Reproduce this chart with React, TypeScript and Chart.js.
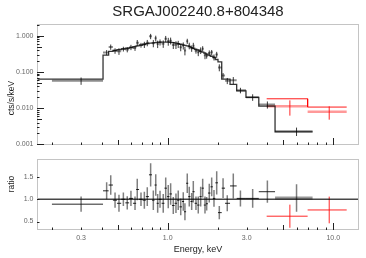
import React, { useEffect, useRef } from 'react';
import { Chart, registerables } from 'chart.js';

Chart.register(...registerables);

const FONT = '"Liberation Sans", Arial, sans-serif';
const TITLE = 'SRGAJ002240.8+804348';
const X_LABEL = 'Energy, keV';
const Y_LABEL_TOP = 'cts/s/keV';
const Y_LABEL_RATIO = 'ratio';

const X_MIN = 0.1625;
const X_MAX = 14.3;
const Y_MIN = 0.00096;
const Y_MAX = 2.1;
const R_MIN = 0.31;
const R_MAX = 1.905;
const X_TICKS = [0.3, 1, 3, 10];
const Y_TICKS = [0.001, 0.01, 0.1, 1];
const R_TICKS = [0.5, 1.0, 1.5];

// black spectrum: bin edges (keV), first model bin starts lower
const BLACK_MODEL_START = 0.162;
const BLACK_EDGES = [0.2, 0.407, 0.44, 0.467, 0.494, 0.524, 0.555, 0.585, 0.617, 0.645, 0.672, 0.706, 0.738, 0.771, 0.804, 0.833, 0.858, 0.884, 0.919, 0.956, 0.99, 1.025, 1.061, 1.101, 1.14, 1.178, 1.22, 1.256, 1.292, 1.331, 1.373, 1.412, 1.455, 1.506, 1.556, 1.604, 1.653, 1.7, 1.751, 1.813, 1.874, 1.94, 2.013, 2.12, 2.22, 2.38, 2.61, 2.97, 3.55, 4.45, 7.5];
const BLACK_CENTERS = [0.30, 0.428, 0.453, 0.481, 0.508, 0.540, 0.570, 0.600, 0.635, 0.655, 0.690, 0.723, 0.753, 0.789, 0.819, 0.847, 0.870, 0.899, 0.940, 0.973, 1.008, 1.042, 1.081, 1.122, 1.158, 1.199, 1.242, 1.271, 1.313, 1.350, 1.396, 1.428, 1.482, 1.530, 1.582, 1.627, 1.680, 1.720, 1.783, 1.844, 1.904, 1.977, 2.050, 2.16, 2.29, 2.49, 2.75, 3.26, 4.0, 6.0];
const BLACK_MODEL = [0.063, 0.29, 0.37, 0.39, 0.41, 0.43, 0.45, 0.47, 0.50, 0.52, 0.55, 0.58, 0.60, 0.62, 0.63, 0.64, 0.65, 0.66, 0.66, 0.66, 0.66, 0.65, 0.64, 0.62, 0.60, 0.58, 0.56, 0.54, 0.52, 0.50, 0.47, 0.45, 0.42, 0.40, 0.37, 0.35, 0.33, 0.31, 0.29, 0.27, 0.25, 0.22, 0.19, 0.063, 0.063, 0.045, 0.030, 0.0197, 0.0114, 0.0022];
const BLACK_DATA = [0.057, 0.345, 0.488, 0.382, 0.373, 0.43, 0.414, 0.479, 0.455, 0.634, 0.55, 0.568, 0.636, 0.961, 0.617, 0.845, 0.592, 0.66, 0.60, 0.825, 0.70, 0.728, 0.55, 0.564, 0.588, 0.481, 0.532, 0.389, 0.707, 0.53, 0.447, 0.527, 0.382, 0.348, 0.392, 0.438, 0.287, 0.279, 0.331, 0.346, 0.255, 0.301, 0.133, 0.079, 0.057, 0.059, 0.031, 0.020, 0.0125, 0.0023];
const BLACK_ERR = [0.013, 0.055, 0.081, 0.066, 0.078, 0.065, 0.068, 0.08, 0.075, 0.125, 0.083, 0.11, 0.126, 0.161, 0.139, 0.154, 0.137, 0.125, 0.139, 0.158, 0.172, 0.156, 0.122, 0.136, 0.132, 0.11, 0.118, 0.103, 0.114, 0.11, 0.089, 0.108, 0.063, 0.076, 0.081, 0.074, 0.063, 0.047, 0.061, 0.057, 0.048, 0.057, 0.029, 0.014, 0.011, 0.013, 0.0054, 0.0041, 0.0028, 0.0006];
const BLACK_RATIO = [0.89, 1.19, 1.32, 0.98, 0.91, 1.00, 0.92, 1.02, 0.91, 1.22, 1.00, 0.98, 1.06, 1.55, 0.98, 1.32, 0.91, 1.00, 0.91, 1.25, 1.06, 1.12, 0.86, 0.91, 0.98, 0.83, 0.95, 0.72, 1.36, 1.06, 0.95, 1.17, 0.91, 0.87, 1.06, 1.25, 0.87, 0.90, 1.14, 1.28, 1.02, 1.37, 0.70, 1.25, 0.91, 1.30, 1.02, 1.02, 1.17, 1.03];
const BLACK_RATIO_ERR = [0.17, 0.19, 0.22, 0.17, 0.19, 0.15, 0.15, 0.17, 0.15, 0.24, 0.15, 0.19, 0.21, 0.26, 0.22, 0.24, 0.21, 0.19, 0.21, 0.24, 0.26, 0.24, 0.19, 0.22, 0.22, 0.19, 0.21, 0.19, 0.22, 0.22, 0.19, 0.24, 0.15, 0.19, 0.22, 0.21, 0.19, 0.15, 0.21, 0.21, 0.19, 0.26, 0.15, 0.22, 0.18, 0.28, 0.18, 0.21, 0.25, 0.31];

// red spectrum
const RED_EDGES = [3.96, 7.0, 12.05];
const RED_CENTERS = [5.47, 9.45];
const RED_MODEL = [0.0181, 0.0107];
const RED_DATA = [0.0113, 0.0080];
const RED_ERR = [0.0051, 0.0032];
const RED_RATIO = [0.62, 0.76];
const RED_RATIO_ERR = [0.26, 0.30];

type P = { x: number; y: number | null };

const hBars = (lo: number[], hi: number[], y: number[]): P[] =>
  lo.flatMap((l, i) => [{ x: l, y: y[i] }, { x: hi[i], y: y[i] }, { x: hi[i], y: null }]);
const vBars = (x: number[], y: number[], e: number[]): P[] =>
  x.flatMap((c, i) => [{ x: c, y: y[i] - e[i] }, { x: c, y: y[i] + e[i] }, { x: c, y: null }]);
const steps = (edges: number[], vals: number[]): P[] =>
  vals.flatMap((v, i) => [{ x: edges[i], y: v }, { x: edges[i + 1], y: v }]);

const ds = (data: P[], color: string, width: number) => ({
  data,
  borderColor: color,
  backgroundColor: color,
  borderWidth: width,
  pointRadius: 0,
  pointHoverRadius: 0,
  fill: false,
  tension: 0,
  spanGaps: false,
});

const zeroPad = (s: any) => {
  s.paddingLeft = 0;
  s.paddingRight = 0;
  s.paddingTop = 0;
  s.paddingBottom = 0;
};

const decor = (kind: 'top' | 'ratio') => ({
  id: 'decor_' + kind,
  afterDatasetsDraw(chart: any) {
    const { ctx, chartArea: a, scales } = chart;
    const xs = scales.x;
    const ys = scales.y;
    ctx.save();
    ctx.strokeStyle = '#c4c4c4';
    ctx.lineWidth = 1;
    ctx.strokeRect(a.left + 0.5, a.top + 0.5, a.right - a.left - 1, a.bottom - a.top - 1);
    ctx.strokeStyle = '#222';
    ctx.beginPath();
    for (const d of [0.1, 1, 10]) {
      for (let m = 1; m <= 9; m++) {
        const v = m * d;
        if (v < X_MIN || v > X_MAX) continue;
        const px = Math.round(xs.getPixelForValue(v)) + 0.5;
        const len = m === 1 ? 7 : m === 5 ? 5 : 2.5;
        ctx.moveTo(px, a.bottom);
        ctx.lineTo(px, a.bottom - len);
      }
    }
    if (kind === 'top') {
      for (const d of [0.0001, 0.001, 0.01, 0.1, 1]) {
        for (let m = 1; m <= 9; m++) {
          const v = m * d;
          if (v < Y_MIN || v > Y_MAX) continue;
          const py = Math.round(ys.getPixelForValue(v)) + 0.5;
          const len = m === 1 ? 7 : m === 5 ? 5 : 2.5;
          ctx.moveTo(a.left, py);
          ctx.lineTo(a.left + len, py);
        }
      }
    } else {
      for (const v of R_TICKS) {
        const py = Math.round(ys.getPixelForValue(v)) + 0.5;
        ctx.moveTo(a.left, py);
        ctx.lineTo(a.left + 2.5, py);
      }
    }
    ctx.stroke();
    ctx.fillStyle = '#222';
    ctx.font = `8.5px ${FONT}`;
    ctx.textAlign = 'center';
    ctx.textBaseline = 'middle';
    ctx.translate(12, kind === 'top' ? 98 : 34);
    ctx.rotate(-Math.PI / 2);
    ctx.fillText(kind === 'top' ? Y_LABEL_TOP : Y_LABEL_RATIO, 0, 0);
    ctx.restore();
  },
});

const tickFont = { family: FONT, size: 7 };
const TICK_COLOR = '#666';

export default function App() {
  const topRef = useRef<HTMLCanvasElement>(null);
  const botRef = useRef<HTMLCanvasElement>(null);

  useEffect(() => {
    document.body.style.margin = '0';
    const lo = BLACK_EDGES.slice(0, -1);
    const hi = BLACK_EDGES.slice(1);
    const modelEdges = [BLACK_MODEL_START, ...BLACK_EDGES.slice(1)];
    const rLo = RED_EDGES.slice(0, -1);
    const rHi = RED_EDGES.slice(1);

    const top = new Chart(topRef.current as HTMLCanvasElement, {
      type: 'line',
      data: {
        datasets: [
          ds(vBars(BLACK_CENTERS, BLACK_DATA, BLACK_ERR), 'rgba(0,0,0,0.78)', 1),
          ds(hBars(lo, hi, BLACK_DATA), 'rgba(0,0,0,0.45)', 2),
          ds(steps(modelEdges, BLACK_MODEL), 'rgba(0,0,0,0.8)', 1.3),
          ds(vBars(RED_CENTERS, RED_DATA, RED_ERR), 'rgba(255,0,0,0.85)', 1),
          ds(hBars(rLo, rHi, RED_DATA), 'rgba(255,0,0,0.4)', 2.5),
          ds(steps(RED_EDGES, RED_MODEL), 'rgba(255,0,0,0.9)', 1),
        ] as any,
      },
      options: {
        animation: false,
        responsive: false,
        events: [],
        layout: { padding: { left: 0, right: 7, top: 0, bottom: 5 } },
        plugins: {
          legend: { display: false },
          tooltip: { enabled: false },
          title: {
            display: true,
            text: TITLE,
            fullSize: false,
            color: '#222',
            font: { family: FONT, size: 15, weight: 'normal', lineHeight: 1.2 },
            padding: { top: 3, bottom: 3 },
          },
        },
        scales: {
          x: {
            type: 'logarithmic',
            min: X_MIN,
            max: X_MAX,
            ticks: { display: false },
            grid: { display: false, drawTicks: false },
            border: { display: false },
            afterFit: (s: any) => { s.height = 0; zeroPad(s); },
          },
          y: {
            type: 'logarithmic',
            min: Y_MIN,
            max: Y_MAX,
            afterBuildTicks: (s: any) => { s.ticks = Y_TICKS.map((v) => ({ value: v })); },
            ticks: {
              autoSkip: false,
              callback: (v: any) => Number(v).toFixed(3),
              font: tickFont,
              color: TICK_COLOR,
              padding: 3.5,
            },
            grid: { display: false, drawTicks: false },
            border: { display: false },
            afterFit: (s: any) => { s.width = 37; zeroPad(s); },
          },
        },
      } as any,
      plugins: [decor('top')],
    });

    const bot = new Chart(botRef.current as HTMLCanvasElement, {
      type: 'line',
      data: {
        datasets: [
          ds([{ x: X_MIN, y: 1 }, { x: X_MAX, y: 1 }], 'rgba(0,0,0,0.72)', 1.5),
          ds(vBars(BLACK_CENTERS, BLACK_RATIO, BLACK_RATIO_ERR), 'rgba(0,0,0,0.5)', 1.5),
          ds(hBars(lo.slice(0, -1), hi.slice(0, -1), BLACK_RATIO.slice(0, -1)), 'rgba(0,0,0,0.85)', 1),
          ds(hBars(lo.slice(-1), hi.slice(-1), BLACK_RATIO.slice(-1)), 'rgba(0,0,0,0.4)', 3),
          ds(vBars(RED_CENTERS, RED_RATIO, RED_RATIO_ERR), 'rgba(255,0,0,0.85)', 1),
          ds(hBars(rLo, rHi, RED_RATIO), 'rgba(255,0,0,0.85)', 1),
        ] as any,
      },
      options: {
        animation: false,
        responsive: false,
        events: [],
        layout: { padding: { left: 0, right: 7, top: 9, bottom: 0 } },
        plugins: { legend: { display: false }, tooltip: { enabled: false }, title: { display: false } },
        scales: {
          x: {
            type: 'logarithmic',
            min: X_MIN,
            max: X_MAX,
            afterBuildTicks: (s: any) => { s.ticks = X_TICKS.map((v) => ({ value: v })); },
            ticks: {
              autoSkip: false,
              maxRotation: 0,
              callback: (v: any) => Number(v).toFixed(1),
              font: tickFont,
              color: TICK_COLOR,
              padding: 4,
            },
            grid: { display: false, drawTicks: false },
            border: { display: false },
            title: {
              display: true,
              text: X_LABEL,
              color: '#222',
              font: { family: FONT, size: 9, lineHeight: 1.2 },
              padding: { top: 0, bottom: 3 },
            },
            afterFit: (s: any) => { s.height = 28; zeroPad(s); },
          },
          y: {
            type: 'linear',
            min: R_MIN,
            max: R_MAX,
            afterBuildTicks: (s: any) => { s.ticks = R_TICKS.map((v) => ({ value: v })); },
            ticks: {
              autoSkip: false,
              callback: (v: any) => Number(v).toFixed(1),
              font: tickFont,
              color: TICK_COLOR,
              padding: 3.5,
            },
            grid: { display: false, drawTicks: false },
            border: { display: false },
            afterFit: (s: any) => { s.width = 37; zeroPad(s); },
          },
        },
      } as any,
      plugins: [decor('ratio')],
    });

    return () => {
      top.destroy();
      bot.destroy();
    };
  }, []);

  return (
    <div style={{ width: 366, height: 258 }}>
      <canvas ref={topRef} width={366} height={150} style={{ display: 'block' }} />
      <canvas ref={botRef} width={366} height={108} style={{ display: 'block' }} />
    </div>
  );
}
